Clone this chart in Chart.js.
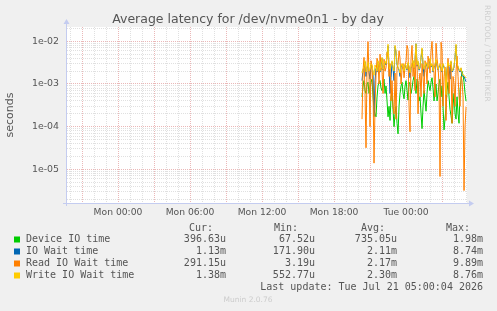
<!DOCTYPE html>
<html>
<head>
<meta charset="utf-8">
<script src="https://cdn.jsdelivr.net/npm/chart.js@4.4.1/dist/chart.umd.min.js"></script>
<style>
  html, body { margin: 0; padding: 0; background: #f0f0f0; }
  #wrap { width: 497px; height: 311px; }
</style>
</head>
<body>
<div id="wrap"><canvas id="c" width="497" height="311"></canvas></div>
<script>
// samples every 5 min, first one Mon 20:20 (hours counted from Mon 00:00)
const sampleStartHour = 20 + 20 / 60;
const sampleStepMin = 5;

const deviceIO = [
  5.0e-4, 9.0e-4, 1.2e-3, 7.0e-4, 6.0e-4, 1.0e-3, 1.1e-3, 6.0e-4, 8.0e-4, 1.1e-3,
  1.3e-3, 5.0e-4, 2.5e-4, 2.0e-4, 1.7e-4, 5.0e-4, 9.0e-4, 1.1e-3, 1.2e-3, 8.0e-4,
  7.0e-4, 1.0e-3, 1.3e-3, 6.0e-4, 9.0e-4, 4.0e-4, 1.7e-4, 3.0e-4, 1.4e-4, 5.0e-4,
  6.0e-4, 2.5e-4, 1.0e-4, 2.0e-4, 3.0e-4, 1.2e-4, 6.8e-5, 3.0e-4, 6.0e-4, 9.0e-4,
  1.1e-3, 6.0e-4, 4.5e-4, 9.0e-4, 1.2e-3, 7.0e-4, 4.2e-4, 1.1e-3, 1.0e-3, 6.0e-4,
  8.0e-4, 1.2e-3, 1.5e-3, 9.0e-4, 6.0e-4, 1.3e-3, 1.1e-3, 4.0e-4, 5.0e-4, 2.0e-4,
  9.0e-5, 3.0e-4, 7.0e-4, 4.0e-4, 2.3e-4, 6.0e-4, 1.2e-3, 9.0e-4, 7.0e-4, 1.1e-3,
  1.4e-3, 8.0e-4, 4.0e-4, 7.0e-4, 1.0e-3, 4.0e-4, 6.0e-4, 1.0e-3, 1.3e-3, 5.0e-4,
  9.0e-4, 3.0e-4, 8.4e-5, 1.5e-4, 3.0e-4, 7.0e-4, 1.1e-3, 5.0e-4, 2.5e-4, 1.8e-4,
  1.2e-4, 3.0e-4, 6.0e-4, 2.0e-4, 1.5e-4, 5.0e-4, 2.0e-4, 1.2e-4, 7.0e-4, 1.2e-3,
  1.98e-3, 1.6e-3, 1.1e-3, 6.0e-4, 3.97e-4
];
const ioWait = [
  1.2e-3, 2.1e-3, 2.5e-3, 3.3e-3, 1.5e-3, 2.3e-3, 3.0e-3, 1.9e-3, 1.3e-3, 2.8e-3,
  2.6e-3, 1.8e-3, 1.72e-4, 1.2e-3, 2.3e-3, 1.9e-3, 3.3e-3, 2.5e-3, 1.9e-3, 2.8e-3,
  4.0e-3, 2.1e-3, 2.5e-3, 3.2e-3, 2.8e-3, 4.7e-3, 7.8e-3, 2.5e-3, 6.0e-4, 1.4e-3,
  3.3e-3, 2.3e-3, 1.2e-3, 7.5e-3, 5.6e-3, 2.8e-3, 2.4e-3, 2.1e-3, 1.5e-3, 2.5e-3,
  2.8e-3, 2.3e-3, 1.9e-3, 2.8e-3, 2.5e-3, 2.1e-3, 3.0e-3, 2.5e-3, 1.4e-3, 2.3e-3,
  2.8e-3, 3.4e-3, 2.3e-3, 3.8e-3, 8.74e-3, 2.6e-3, 3.3e-3, 2.1e-3, 2.4e-3, 4.2e-3,
  6.5e-3, 2.8e-3, 1.5e-3, 2.5e-3, 3.0e-3, 2.6e-3, 2.3e-3, 3.0e-3, 3.8e-3, 2.5e-3,
  2.8e-3, 1.9e-3, 2.4e-3, 2.8e-3, 3.6e-3, 2.6e-3, 2.1e-3, 2.5e-3, 2.8e-3, 2.3e-3,
  1.9e-3, 2.8e-3, 2.5e-3, 1.9e-3, 1.2e-3, 2.3e-3, 3.0e-3, 2.5e-3, 1.3e-3, 3.3e-3,
  1.9e-3, 2.1e-3, 2.5e-3, 4.2e-3, 8.0e-3, 2.8e-3, 2.5e-3, 2.1e-3, 1.9e-3, 2.3e-3,
  1.6e-3, 1.5e-3, 1.5e-3, 1.3e-3, 1.13e-3
];
const readWait = [
  1.5e-4, 2.0e-3, 4.2e-3, 6.0e-4, 3.2e-5, 2.5e-3, 9.8e-3, 1.5e-3, 1.0e-4, 3.5e-3,
  2.6e-3, 8.0e-4, 1.4e-5, 3.0e-4, 1.6e-3, 4.0e-3, 3.2e-3, 1.0e-3, 5.0e-3, 2.5e-3,
  2.0e-3, 6.0e-4, 3.8e-3, 2.0e-3, 2.4e-3, 5.5e-3, 4.5e-3, 1.5e-3, 3.0e-3, 4.0e-4,
  1.2e-3, 3.0e-4, 2.0e-4, 1.8e-3, 1.5e-4, 2.5e-3, 2.8e-3, 6.0e-3, 4.0e-3, 1.0e-3,
  2.2e-3, 3.0e-3, 1.4e-3, 2.5e-3, 3.5e-3, 8.0e-3, 6.5e-3, 3.0e-4, 7.6e-5, 4.0e-3,
  8.0e-3, 1.5e-3, 3.0e-3, 7.0e-4, 5.5e-3, 3.0e-3, 2.0e-4, 1.2e-3, 1.8e-3, 5.0e-4,
  3.0e-3, 1.5e-3, 6.0e-4, 3.5e-3, 2.5e-3, 1.0e-3, 4.5e-3, 3.0e-3, 1.8e-3, 6.0e-3,
  9.89e-3, 3.0e-3, 1.8e-3, 5.0e-4, 9.0e-3, 4.0e-3, 2.5e-3, 1.0e-3, 6.8e-6, 9.5e-3,
  6.0e-3, 3.0e-4, 1.5e-3, 2.5e-3, 1.4e-4, 1.2e-3, 4.0e-3, 6.0e-4, 2.2e-3, 3.0e-3,
  1.2e-4, 1.5e-3, 1.0e-3, 3.0e-4, 2.0e-3, 4.5e-3, 1.5e-3, 5.0e-4, 3.0e-4, 1.5e-3,
  1.2e-3, 5.0e-4, 3.19e-6, 1.0e-4, 2.91e-4
];
const writeWait = [
  1.8e-3, 2.2e-3, 2.6e-3, 3.5e-3, 1.9e-3, 2.4e-3, 3.2e-3, 2.0e-3, 2.2e-3, 3.0e-3,
  2.8e-3, 1.9e-3, 1.6e-3, 2.8e-3, 2.4e-3, 2.0e-3, 3.5e-3, 2.6e-3, 2.0e-3, 3.0e-3,
  4.2e-3, 2.2e-3, 2.6e-3, 3.4e-3, 3.0e-3, 5.0e-3, 8.5e-3, 2.6e-3, 2.2e-3, 2.8e-3,
  3.5e-3, 2.4e-3, 2.0e-3, 8.0e-3, 6.0e-3, 3.0e-3, 2.5e-3, 2.2e-3, 1.8e-3, 2.6e-3,
  3.0e-3, 2.4e-3, 2.0e-3, 3.0e-3, 2.6e-3, 2.2e-3, 3.2e-3, 2.6e-3, 1.8e-3, 2.4e-3,
  3.0e-3, 3.6e-3, 2.4e-3, 4.0e-3, 8.76e-3, 2.8e-3, 3.5e-3, 2.2e-3, 2.5e-3, 4.5e-3,
  7.0e-3, 3.0e-3, 2.2e-3, 2.6e-3, 3.2e-3, 2.8e-3, 2.4e-3, 3.2e-3, 4.0e-3, 2.6e-3,
  3.0e-3, 2.0e-3, 2.5e-3, 3.0e-3, 3.8e-3, 2.8e-3, 2.2e-3, 2.6e-3, 3.0e-3, 2.4e-3,
  2.0e-3, 3.0e-3, 2.6e-3, 2.0e-3, 5.6e-4, 2.4e-3, 3.2e-3, 2.6e-3, 2.8e-3, 3.5e-3,
  2.0e-3, 2.2e-3, 2.6e-3, 4.5e-3, 8.5e-3, 3.0e-3, 2.6e-3, 2.2e-3, 2.0e-3, 2.4e-3,
  1.8e-3, 1.6e-3, 1.6e-3, 1.5e-3, 1.38e-3
];

const seriesNames = ["Device IO time", "IO Wait time", "Read IO Wait time", "Write IO Wait time"];
const seriesColors = ["#00cc00", "#0066b3", "#ff8000", "#ffcc00"];
const statCur = ["396.63u", "1.13m", "291.15u", "1.38m"];
const statMin = ["67.52u", "171.90u", "3.19u", "552.77u"];
const statAvg = ["735.05u", "2.11m", "2.17m", "2.30m"];
const statMax = ["1.98m", "8.74m", "9.89m", "8.76m"];

const xTickHours = [0, 6, 12, 18, 24];
const xTickLabels = ["Mon 00:00", "Mon 06:00", "Mon 12:00", "Mon 18:00", "Tue 00:00"];
const yTickValues = [1e-5, 1e-4, 1e-3, 1e-2];
const yTickLabels = ["1e-05", "1e-04", "1e-03", "1e-02"];

const titleText = "Average latency for /dev/nvme0n1 - by day";
const lastUpdate = "Last update: Tue Jul 21 05:00:04 2026";

const allSeries = [deviceIO, ioWait, readWait, writeWait];

function toPoints(vals) {
  return vals.map((v, i) => ({ x: sampleStartHour + i * sampleStepMin / 60, y: v }));
}

function isDecade(v) {
  const e = Math.log10(v);
  return Math.abs(e - Math.round(e)) < 1e-6;
}

const muninDecor = {
  id: "muninDecor",
  beforeDraw(chart) {
    const { ctx, chartArea: a } = chart;
    ctx.save();
    ctx.fillStyle = "#ffffff";
    ctx.fillRect(a.left, a.top, a.right - a.left, a.bottom - a.top);
    ctx.restore();
  },
  afterDraw(chart) {
    const { ctx, chartArea: a } = chart;
    ctx.save();

    // axes with arrows
    ctx.strokeStyle = "#c4ccf0";
    ctx.fillStyle = "#c4ccf0";
    ctx.lineWidth = 1;
    ctx.beginPath();
    ctx.moveTo(a.left - 0.5, a.bottom + 3);
    ctx.lineTo(a.left - 0.5, a.top - 4);
    ctx.moveTo(a.left - 4, a.bottom + 0.5);
    ctx.lineTo(a.right + 3, a.bottom + 0.5);
    ctx.stroke();
    ctx.beginPath();
    ctx.moveTo(a.left - 3.5, a.top - 3);
    ctx.lineTo(a.left + 2.5, a.top - 3);
    ctx.lineTo(a.left - 0.5, a.top - 8);
    ctx.closePath();
    ctx.fill();
    ctx.beginPath();
    ctx.moveTo(a.right + 2, a.bottom - 2.5);
    ctx.lineTo(a.right + 2, a.bottom + 3.5);
    ctx.lineTo(a.right + 7, a.bottom + 0.5);
    ctx.closePath();
    ctx.fill();

    // title
    ctx.fillStyle = "#555";
    ctx.font = '12.5px "DejaVu Sans"';
    ctx.textAlign = "center";
    ctx.textBaseline = "middle";
    ctx.fillText(titleText, 248, 19.5);

    // side credit
    ctx.save();
    ctx.translate(487, 5);
    ctx.rotate(Math.PI / 2);
    ctx.font = '7.5px "DejaVu Sans"';
    ctx.fillStyle = "#cfcfcf";
    ctx.textAlign = "left";
    ctx.fillText("RRDTOOL / TOBI OETIKER", 0, 0);
    ctx.restore();

    // legend table
    ctx.font = '10px "DejaVu Sans Mono"';
    ctx.fillStyle = "#555";
    ctx.textBaseline = "middle";
    ctx.textAlign = "right";
    const headY = 228;
    ctx.fillText("Cur:", 213, headY);
    ctx.fillText("Min:", 298, headY);
    ctx.fillText("Avg:", 385, headY);
    ctx.fillText("Max:", 470, headY);
    seriesNames.forEach((name, i) => {
      const y = 239.5 + i * 12;
      ctx.fillStyle = seriesColors[i];
      ctx.fillRect(14, y - 3, 6, 6);
      ctx.fillStyle = "#555";
      ctx.textAlign = "left";
      ctx.fillText(name, 26, y);
      ctx.textAlign = "right";
      ctx.fillText(statCur[i], 226, y);
      ctx.fillText(statMin[i], 315, y);
      ctx.fillText(statAvg[i], 397, y);
      ctx.fillText(statMax[i], 483, y);
    });
    ctx.fillText(lastUpdate, 483, 287);

    ctx.font = '7.5px "DejaVu Sans"';
    ctx.fillStyle = "#cccccc";
    ctx.textAlign = "center";
    ctx.fillText("Munin 2.0.76", 248, 300.5);
    ctx.restore();
  }
};

const datasets = allSeries.map((vals, i) => ({
  label: seriesNames[i],
  data: toPoints(vals),
  borderColor: seriesColors[i],
  borderWidth: 1,
  pointRadius: 0,
  tension: 0,
  fill: false,
  order: 3 - i
}));

new Chart(document.getElementById("c"), {
  type: "line",
  data: { datasets },
  options: {
    responsive: false,
    animation: false,
    layout: { padding: { top: 27, right: 30, bottom: 88, left: 0 } },
    plugins: {
      legend: { display: false },
      title: { display: false },
      tooltip: { enabled: false }
    },
    scales: {
      x: {
        type: "linear",
        min: -4.25,
        max: 29.08,
        afterBuildTicks: (scale) => {
          const t = [];
          for (let h = -4; h <= 29; h++) t.push({ value: h });
          scale.ticks = t;
        },
        afterFit: (scale) => { scale.height = 20; },
        ticks: {
          autoSkip: false,
          maxRotation: 0,
          padding: 4,
          color: "#555",
          font: { family: "DejaVu Sans", size: 9.2 },
          callback: (v) => {
            const k = xTickHours.indexOf(v);
            return k >= 0 ? xTickLabels[k] : "";
          }
        },
        grid: {
          drawTicks: false,
          lineWidth: 1,
          color: (c) => (c.tick && c.tick.value % 3 === 0 ? "#ebb8b8" : "#e0e0e0")
        },
        border: { display: false, dash: [1, 1] }
      },
      y: {
        type: "logarithmic",
        min: 1.63e-6,
        max: 0.0216,
        afterBuildTicks: (scale) => {
          const t = [];
          for (let e = -6; e <= -2; e++) {
            for (let m = 1; m <= 9; m++) {
              const v = m * Math.pow(10, e);
              if (v >= scale.min && v <= scale.max) t.push({ value: v });
            }
          }
          scale.ticks = t;
        },
        afterFit: (scale) => { scale.width = 67; },
        title: {
          display: true,
          text: "seconds",
          color: "#555",
          font: { family: "DejaVu Sans", size: 11 },
          padding: { top: 4, bottom: 0 }
        },
        ticks: {
          autoSkip: false,
          padding: 8,
          color: "#555",
          font: { family: "DejaVu Sans", size: 9.4 },
          callback: (v) => {
            for (let k = 0; k < yTickValues.length; k++) {
              if (Math.abs(v / yTickValues[k] - 1) < 1e-6) return yTickLabels[k];
            }
            return "";
          }
        },
        grid: {
          drawTicks: false,
          lineWidth: 1,
          color: (c) => (c.tick && isDecade(c.tick.value) ? "#ebb8b8" : "#e0e0e0")
        },
        border: { display: false, dash: [1, 1] }
      }
    }
  },
  plugins: [muninDecor]
});
</script>
</body>
</html>
